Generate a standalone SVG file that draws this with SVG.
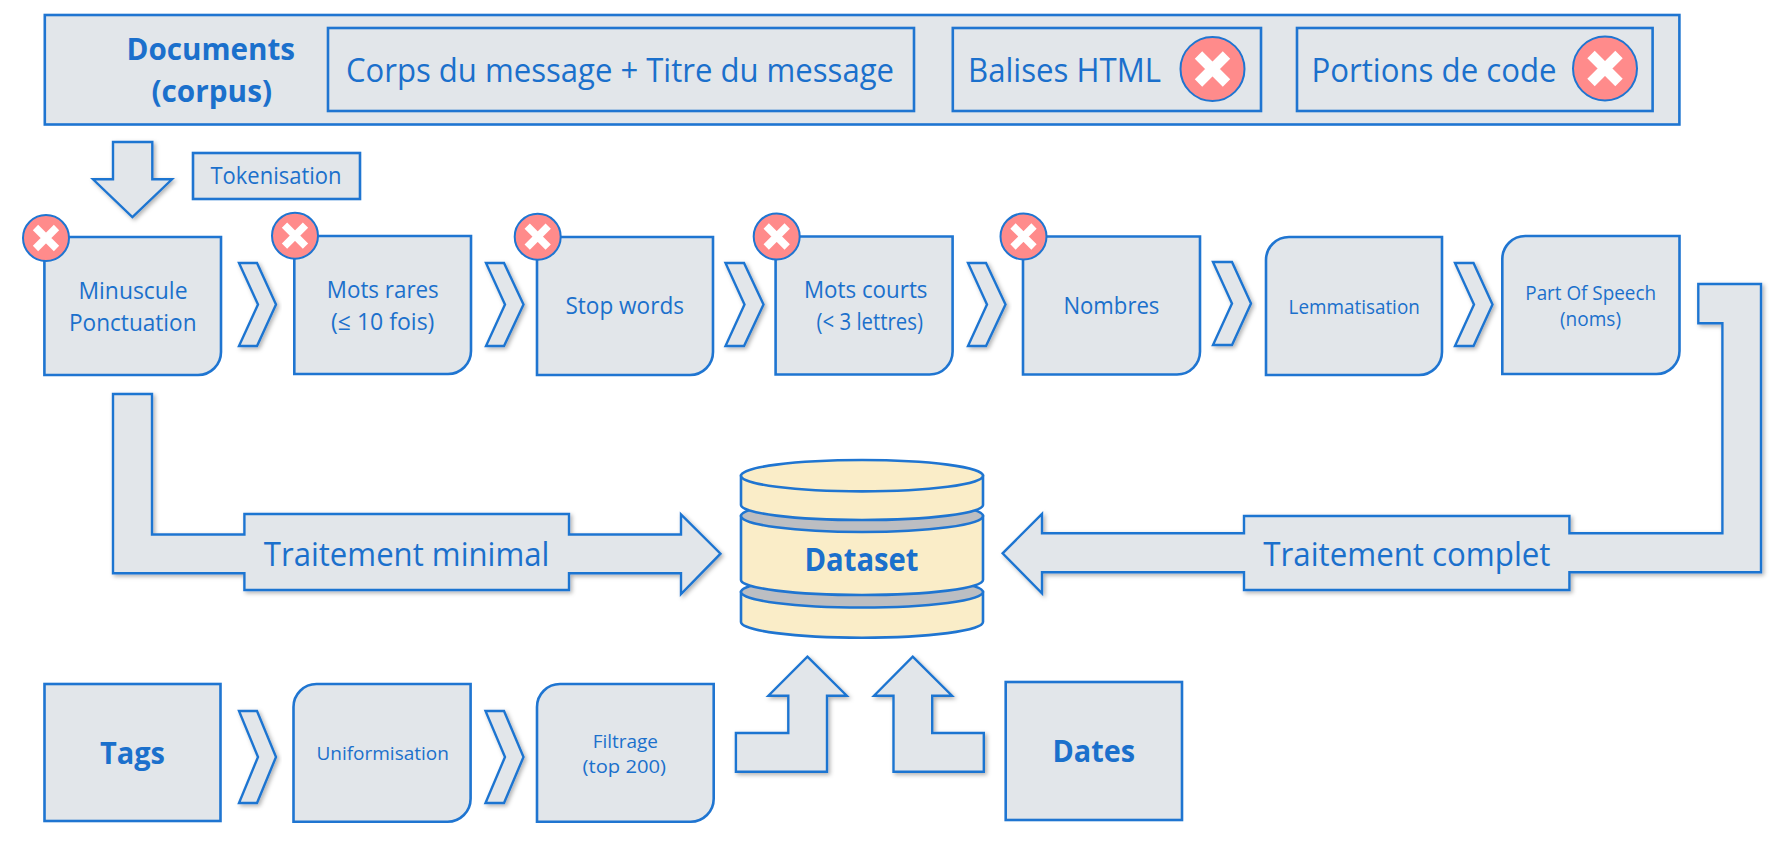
<svg xmlns="http://www.w3.org/2000/svg" width="1791" height="849" viewBox="0 0 1791 849">
<style>
text{font-family:"Open Sans","Noto Sans","Liberation Sans",sans-serif;fill:#1B70CC;}
.b{fill:#E2E6EA;stroke:#1F75D1;stroke-width:2.6;}
.a{fill:#E2E6EA;stroke:#1F75D1;stroke-width:2.4;stroke-linejoin:miter;filter:url(#sh);}
.db{fill:#FAEDC8;stroke:#1F75D1;stroke-width:2.6;}
.g{fill:#BCBEC2;stroke:#1F75D1;stroke-width:2.6;}
.c{fill:#FF8B8B;stroke:#1F75D1;stroke-width:2;}
.x{stroke:#fff;fill:none;}
.bd{font-weight:700;}
</style>
<defs>
<filter id="sh" x="-10%" y="-10%" width="125%" height="125%"><feDropShadow dx="2" dy="2" stdDeviation="2" flood-color="#000" flood-opacity="0.3"/></filter>
<g id="xs"><circle class="c" r="23"/><path class="x" stroke-width="7.5" d="M-10.5,-10.5L10.5,10.5M10.5,-10.5L-10.5,10.5"/></g>
<g id="xl"><circle class="c" r="32"/><path class="x" stroke-width="10.5" d="M-14,-14L14,14M14,-14L-14,14"/></g>
</defs>
<rect width="1791" height="849" fill="#fff"/>
<g id="connectors">
<polygon class="a" points="113,142 152.3,142 152.3,179.3 172,179.3 132.4,217 93,179.3 113,179.3"/>
<polygon class="a" points="239,263 257,263 276,304.5 257,346 239,346 258,304.5"/>
<polygon class="a" points="486,263 504,263 523.5,304.5 504,346 486,346 505,304.5"/>
<polygon class="a" points="725.5,263 744,263 763.5,304.5 744,346 725.5,346 744.5,304.5"/>
<polygon class="a" points="968,263 986,263 1005.5,304.5 986,346 968,346 987,304.5"/>
<polygon class="a" points="1213,262 1232,262 1251,303.5 1232,345 1213,345 1232,303.5"/>
<polygon class="a" points="1455,263 1473.5,263 1492.5,304.5 1473.5,346 1455,346 1474,304.5"/>
<polygon class="a" points="113,394 152,394 152,534.5 244.4,534.5 244.4,514 569,514 569,534.5 681,534.5 681,514.5 720.5,553.7 681,594 681,573.3 569,573.3 569,590 244.4,590 244.4,573.3 113,573.3"/>
<polygon class="a" points="1698.3,284 1761,284 1761,572.3 1569.4,572.3 1569.4,590 1244,590 1244,572.3 1042,572.3 1042,593.3 1002.6,553.3 1042,514 1042,533.3 1244,533.3 1244,516 1569.4,516 1569.4,533.3 1722.4,533.3 1722.4,323.3 1698.3,323.3"/>
<polygon class="a" points="239,711 257,711 276,757 257,803 239,803 258,757"/>
<polygon class="a" points="485.5,711 504,711 523.5,757 504,803 485.5,803 505,757"/>
<polygon class="a" points="807.4,656.7 846.8,695.7 827,695.7 827,771.7 735.9,771.7 735.9,733 788.3,733 788.3,695.7 768.4,695.7"/>
<polygon class="a" points="912.7,656.7 952,695.7 932.2,695.7 932.2,733 983.8,733 983.8,771.7 893.5,771.7 893.5,695.7 874,695.7"/>
</g>
<g id="documents">
<rect class="b" x="44.8" y="15" width="1634.6" height="109.5"/>
<text class="bd" x="126.5" y="60" font-size="30.5" textLength="168.5" lengthAdjust="spacingAndGlyphs">Documents</text>
<text class="bd" x="151.5" y="102" font-size="30.5" textLength="120.5" lengthAdjust="spacingAndGlyphs">(corpus)</text>
</g>
<g id="corps">
<rect class="b" x="328" y="28" width="586" height="83"/>
<text x="346" y="81.7" font-size="33" textLength="548" lengthAdjust="spacingAndGlyphs">Corps du message + Titre du message</text>
</g>
<g id="balises">
<rect class="b" x="952.8" y="28" width="308.2" height="83"/>
<text x="968" y="81.7" font-size="33" textLength="193" lengthAdjust="spacingAndGlyphs">Balises HTML</text>
<use href="#xl" x="1212.5" y="69"/>
</g>
<g id="portions">
<rect class="b" x="1297" y="28" width="355.6" height="83"/>
<text x="1311.5" y="81.7" font-size="33" textLength="245" lengthAdjust="spacingAndGlyphs">Portions de code</text>
<use href="#xl" x="1605" y="68.5"/>
</g>
<g id="tokenisation">
<rect class="b" x="193" y="153" width="167" height="46"/>
<text x="210.5" y="184.3" font-size="23" textLength="131" lengthAdjust="spacingAndGlyphs">Tokenisation</text>
</g>
<g id="minuscule">
<path class="b" d="M44.4,237H221V352A23,23 0 0 1 198,375H44.4Z"/>
<text x="78.5" y="299" font-size="23.5" textLength="109" lengthAdjust="spacingAndGlyphs">Minuscule</text>
<text x="69" y="331" font-size="23.5" textLength="127.5" lengthAdjust="spacingAndGlyphs">Ponctuation</text>
<use href="#xs" x="46" y="238"/>
</g>
<g id="mots-rares">
<path class="b" d="M294.3,236H471V351A23,23 0 0 1 448,374H294.3Z"/>
<text x="326.8" y="298.3" font-size="23.5" textLength="112" lengthAdjust="spacingAndGlyphs">Mots rares</text>
<text x="331" y="330" font-size="23.5" textLength="103.4" lengthAdjust="spacingAndGlyphs">(≤ 10 fois)</text>
<use href="#xs" x="295" y="235.7"/>
</g>
<g id="stop-words">
<path class="b" d="M537,237H713V352A23,23 0 0 1 690,375H537Z"/>
<text x="565.4" y="314" font-size="23.5" textLength="118.6" lengthAdjust="spacingAndGlyphs">Stop words</text>
<use href="#xs" x="537.7" y="236.7"/>
</g>
<g id="mots-courts">
<path class="b" d="M775.6,236.5H952.6V351A23,23 0 0 1 929.6,374.5H775.6Z"/>
<text x="804" y="298.3" font-size="23.5" textLength="123.5" lengthAdjust="spacingAndGlyphs">Mots courts</text>
<text x="816.6" y="330" font-size="23.5" textLength="106.4" lengthAdjust="spacingAndGlyphs">(&lt; 3 lettres)</text>
<use href="#xs" x="776.7" y="236.5"/>
</g>
<g id="nombres">
<path class="b" d="M1023,236.5H1200V351A23,23 0 0 1 1177,374.5H1023Z"/>
<text x="1063.4" y="314" font-size="23.5" textLength="96" lengthAdjust="spacingAndGlyphs">Nombres</text>
<use href="#xs" x="1023.5" y="236.5"/>
</g>
<g id="lemmatisation">
<path class="b" d="M1289,237H1442V352A23,23 0 0 1 1419,375H1266V260A23,23 0 0 1 1289,237Z"/>
<text x="1288.6" y="314.3" font-size="20.5" textLength="131.2" lengthAdjust="spacingAndGlyphs">Lemmatisation</text>
</g>
<g id="pos">
<path class="b" d="M1525.3,236H1679.5V351A23,23 0 0 1 1656.5,374H1502.3V259A23,23 0 0 1 1525.3,236Z"/>
<text x="1525.3" y="300" font-size="20.5" textLength="130.7" lengthAdjust="spacingAndGlyphs">Part Of Speech</text>
<text x="1560" y="326" font-size="20.5" textLength="61" lengthAdjust="spacingAndGlyphs">(noms)</text>
</g>
<g id="traitement-labels">
<text x="263.8" y="565.5" font-size="33" textLength="285.6" lengthAdjust="spacingAndGlyphs">Traitement minimal</text>
<text x="1263.3" y="565.7" font-size="33" textLength="287.2" lengthAdjust="spacingAndGlyphs">Traitement complet</text>
</g>
<g id="dataset">
<path class="db" d="M741,592V622A121,15.7 0 0 0 983,622V592Z"/>
<ellipse class="g" cx="862" cy="592" rx="121" ry="15.5"/>
<path class="db" d="M741,516V580A121,15 0 0 0 983,580V516Z"/>
<ellipse class="g" cx="862" cy="516" rx="121" ry="16"/>
<path class="db" d="M741,475.7V505A121,15 0 0 0 983,505V475.7Z"/>
<ellipse class="db" cx="862" cy="475.7" rx="121" ry="15.7"/>
<text class="bd" x="804.5" y="571" font-size="33" textLength="114" lengthAdjust="spacingAndGlyphs">Dataset</text>
</g>
<g id="tags">
<rect class="b" x="44.5" y="684" width="176" height="137"/>
<text class="bd" x="100" y="764" font-size="30.5" textLength="65" lengthAdjust="spacingAndGlyphs">Tags</text>
</g>
<g id="uniformisation">
<path class="b" d="M316.5,684H470.6V798.7A23,23 0 0 1 447.6,821.7H293.5V707A23,23 0 0 1 316.5,684Z"/>
<text x="316.4" y="760" font-size="19" textLength="132.5" lengthAdjust="spacingAndGlyphs">Uniformisation</text>
</g>
<g id="filtrage">
<path class="b" d="M560,684H713.7V798.7A23,23 0 0 1 690.7,821.7H537V707A23,23 0 0 1 560,684Z"/>
<text x="592.8" y="747.5" font-size="19" textLength="65.2" lengthAdjust="spacingAndGlyphs">Filtrage</text>
<text x="582.5" y="772.7" font-size="19" textLength="83.5" lengthAdjust="spacingAndGlyphs">(top 200)</text>
</g>
<g id="dates">
<rect class="b" x="1005.7" y="682" width="176.3" height="138"/>
<text class="bd" x="1052.5" y="762" font-size="30.5" textLength="82.5" lengthAdjust="spacingAndGlyphs">Dates</text>
</g>
</svg>
